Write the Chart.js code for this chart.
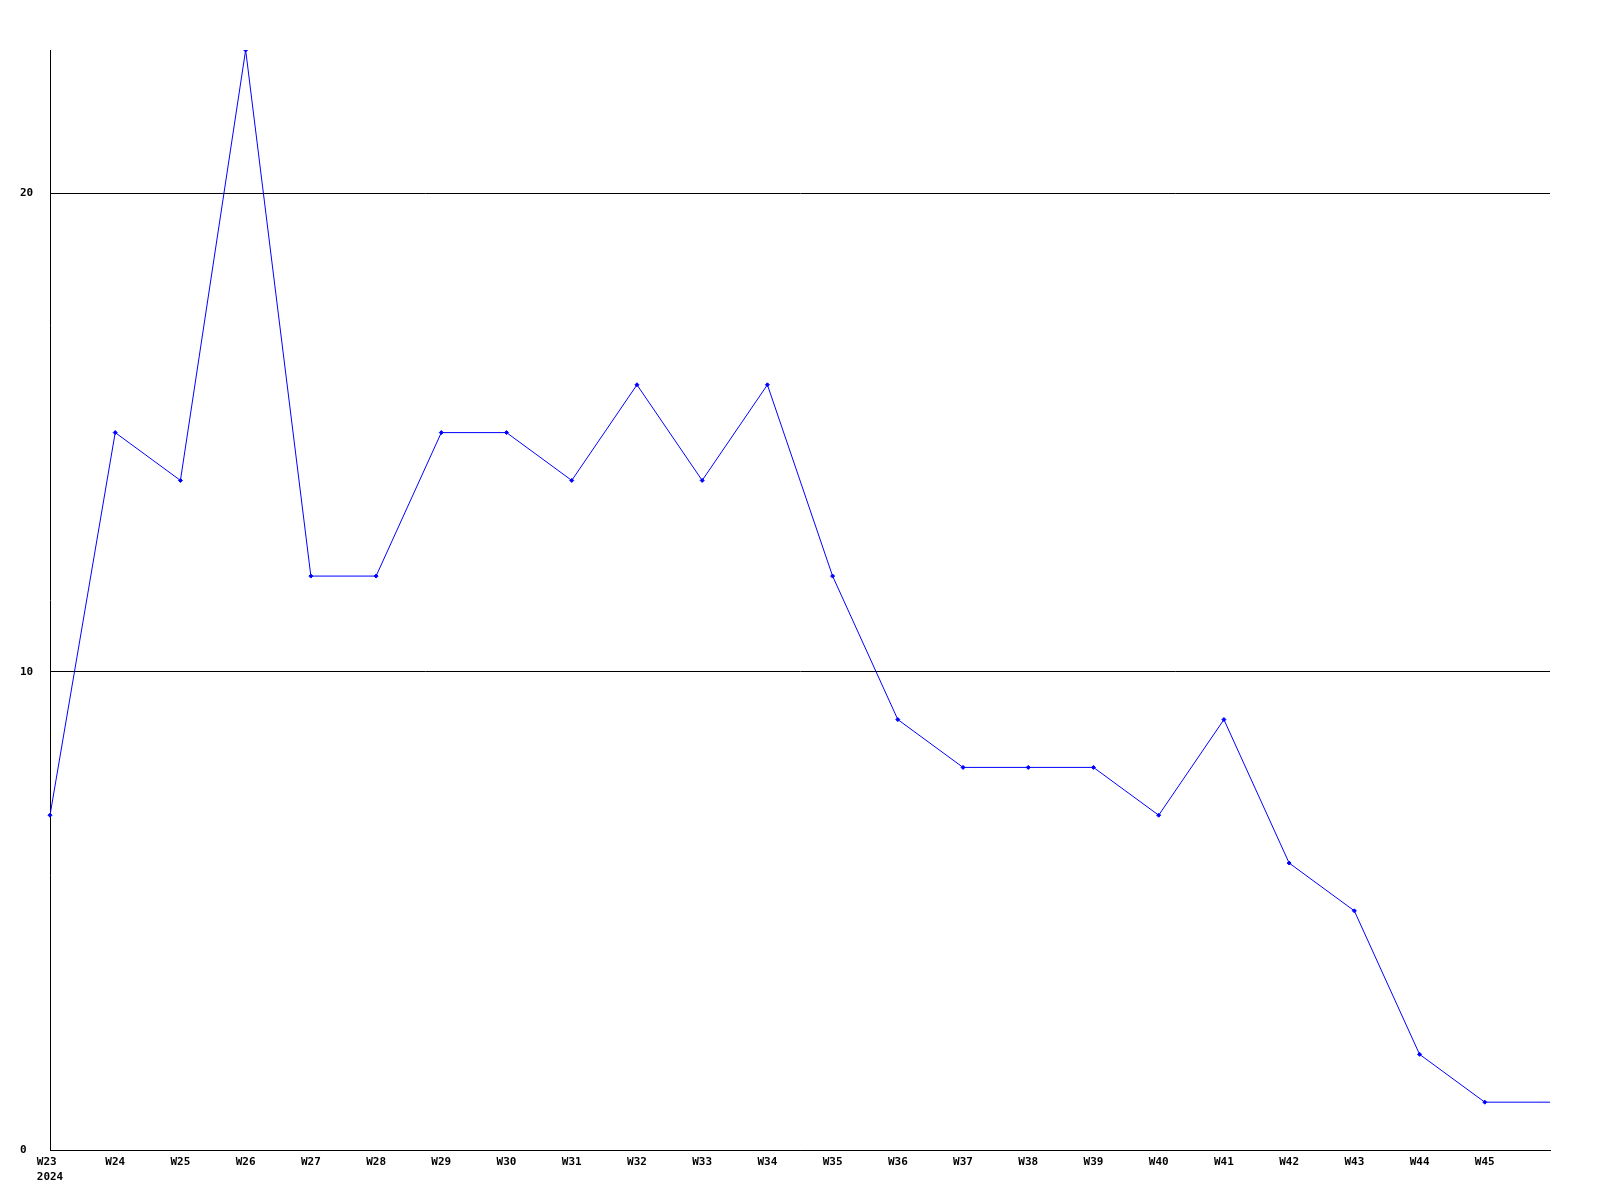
<!DOCTYPE html>
<html>
<head>
<meta charset="utf-8">
<script src="https://cdn.jsdelivr.net/npm/chart.js@4/dist/chart.umd.min.js"></script>
<style>
  html, body { margin: 0; padding: 0; background: #fff; }
  #wrap { width: 1600px; height: 1200px; position: relative; }
</style>
</head>
<body>
<div id="wrap"><canvas id="c" width="1600" height="1200"></canvas></div>
<script>
const weeks = ["W23","W24","W25","W26","W27","W28","W29","W30","W31","W32","W33","W34","W35","W36","W37","W38","W39","W40","W41","W42","W43","W44","W45","W46"];
const yearLabel = "2024";
const values = [7,15,14,23,12,12,15,15,14,16,14,16,12,9,8,8,8,7,9,6,5,2,1,1];
const yTicks = [0,10,20];
const yMax = 23;

const labels = weeks.map((w, i) => i === 0 ? [w + " ", yearLabel] : w);
const lastIdx = weeks.length - 1;

new Chart(document.getElementById('c'), {
  type: 'line',
  data: {
    labels: labels,
    datasets: [{
      data: values,
      borderColor: '#0000ff',
      backgroundColor: '#0000ff',
      borderWidth: 1,
      pointStyle: 'rectRot',
      pointRadius: values.map((v, i) => i === lastIdx ? 0 : 2),
      pointBorderWidth: 1,
      tension: 0,
      fill: false
    }]
  },
  options: {
    responsive: false,
    animation: false,
    devicePixelRatio: 1,
    layout: { padding: { left: 20, right: 50, top: 50, bottom: 0 } },
    plugins: { legend: { display: false }, tooltip: { enabled: false } },
    scales: {
      x: {
        type: 'category',
        offset: false,
        grid: { display: false, drawTicks: false },
        border: { display: true, color: '#000', width: 1 },
        afterFit: s => { s.height = 50; },
        ticks: {
          autoSkip: false,
          maxRotation: 0,
          minRotation: 0,
          padding: 5,
          color: '#000',
          font: { family: 'DejaVu Sans Mono', size: 11, weight: 'bold', lineHeight: 1.35 },
          callback: function(v, i) { return i === lastIdx ? '' : this.getLabelForValue(v); }
        }
      },
      y: {
        min: 0,
        max: yMax,
        afterFit: s => { s.width = 30; },
        afterBuildTicks: s => { s.ticks = yTicks.map(v => ({ value: v })); },
        grid: { color: '#000', lineWidth: 1, drawTicks: false },
        border: { display: true, color: '#000', width: 1 },
        ticks: {
          crossAlign: 'far',
          padding: 0,
          color: '#000',
          font: { family: 'DejaVu Sans Mono', size: 11, weight: 'bold' }
        }
      }
    }
  }
});
</script>
</body>
</html>
